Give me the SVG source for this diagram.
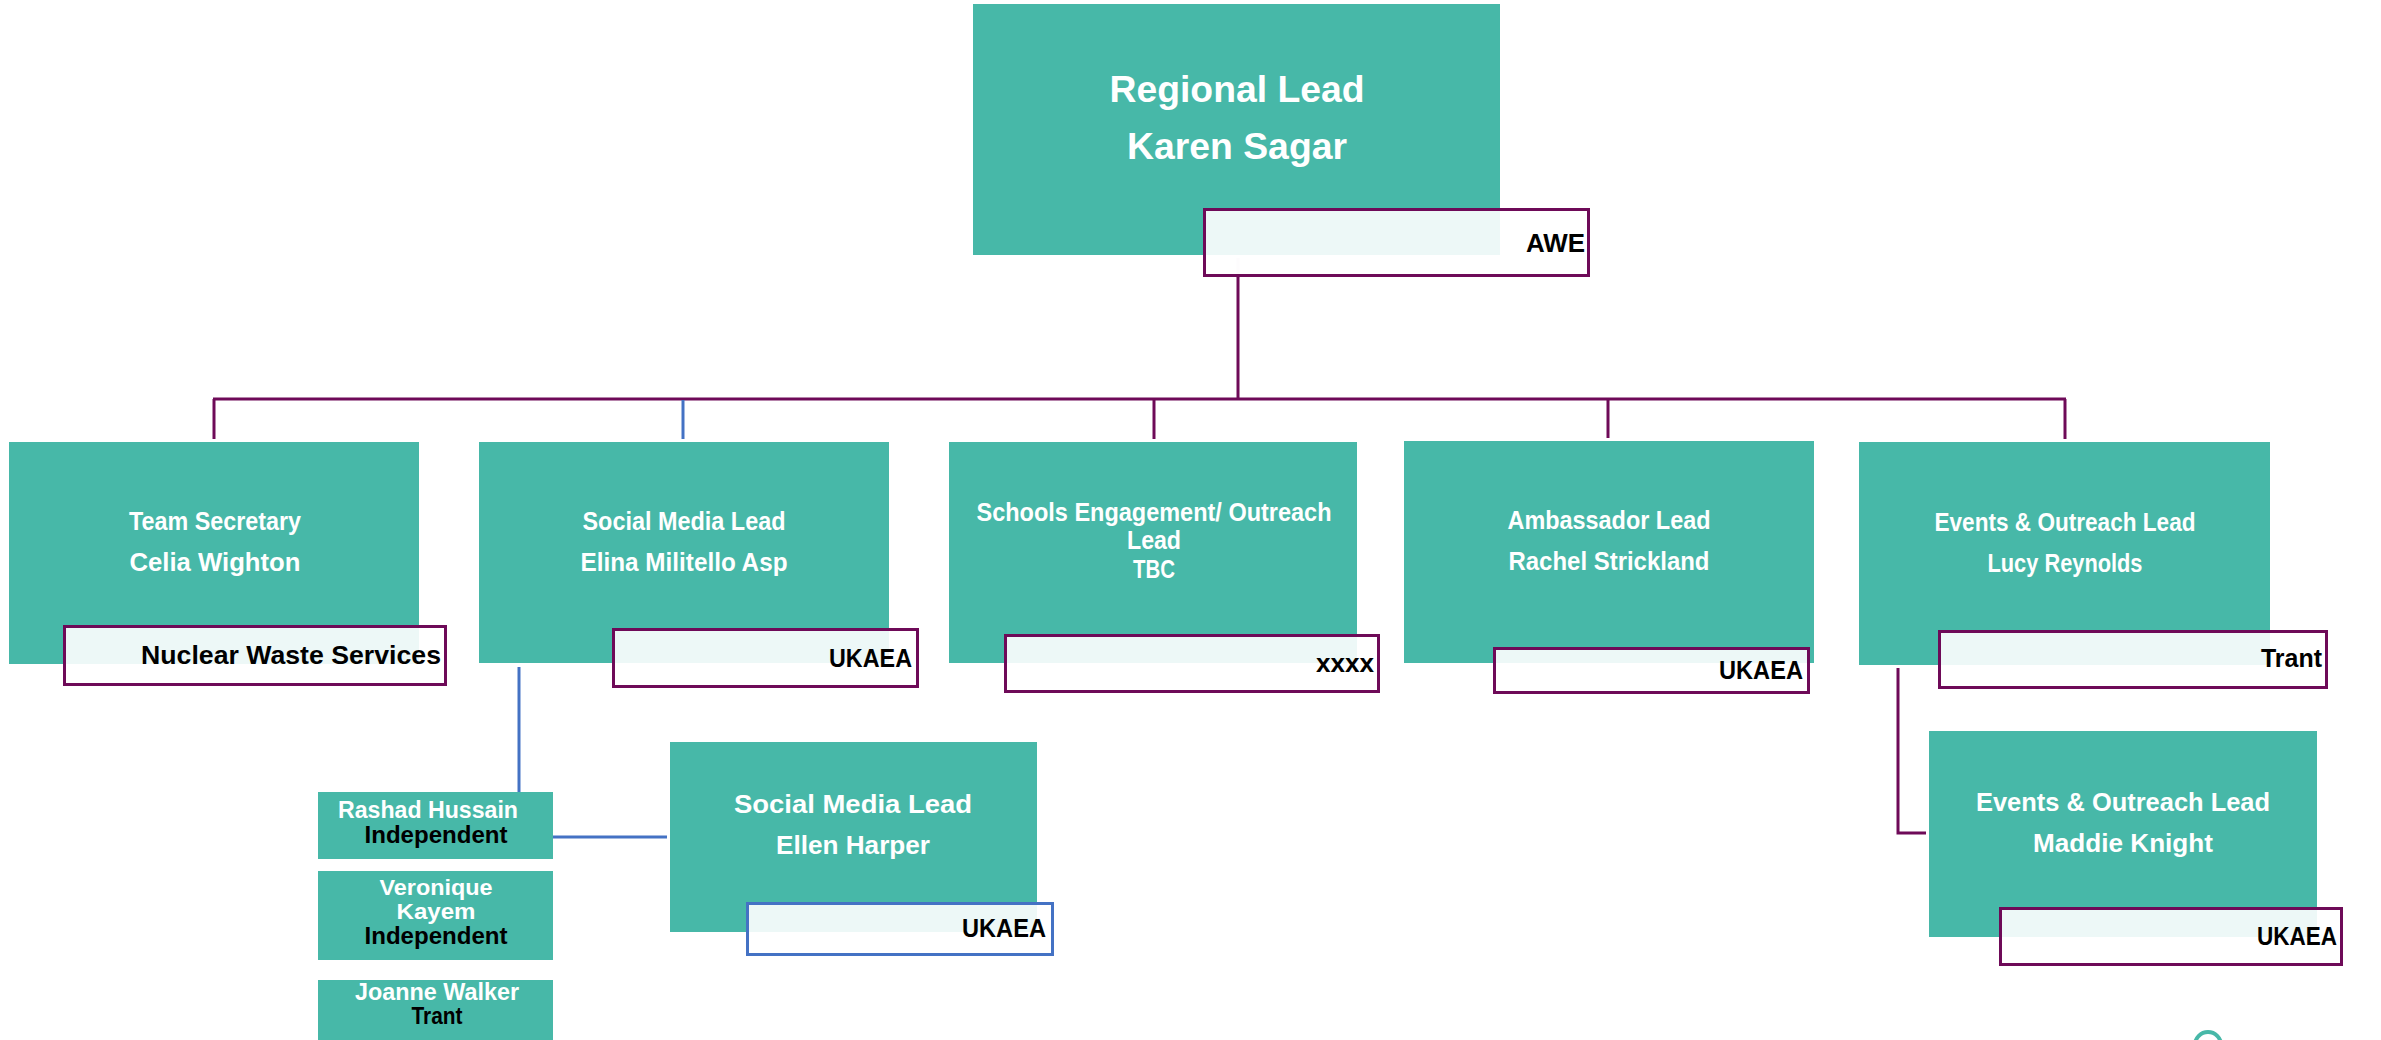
<svg xmlns="http://www.w3.org/2000/svg" width="2381" height="1040" viewBox="0 0 2381 1040">
<style>
.box{fill:#47B8A8}
.lbl{fill:#ffffff;fill-opacity:0.9;stroke:#6E0A58;stroke-width:3}
.lblb{fill:#ffffff;fill-opacity:0.9;stroke:#4472C4;stroke-width:3}
.t{font-family:"Liberation Sans",Arial,sans-serif;font-weight:bold;fill:#ffffff;text-anchor:middle}
.o{font-family:"Liberation Sans",Arial,sans-serif;font-weight:bold;fill:#000000;text-anchor:end}
.k{font-family:"Liberation Sans",Arial,sans-serif;font-weight:bold;fill:#000000;text-anchor:middle}
.p{stroke:#6E0A58;stroke-width:3;fill:none}
.b{stroke:#4472C4;stroke-width:3;fill:none}
</style>
<rect width="2381" height="1040" fill="#ffffff"/>
<g id="connectors">
<line class="p" x1="1238" y1="258" x2="1238" y2="278" stroke-opacity="0.15"/>
<line class="p" x1="1238" y1="277" x2="1238" y2="400"/>
<line class="p" x1="213" y1="399" x2="2066" y2="399"/>
<line class="p" x1="214" y1="399" x2="214" y2="439"/>
<line class="b" x1="683" y1="400" x2="683" y2="439"/>
<line class="p" x1="1154" y1="399" x2="1154" y2="439"/>
<line class="p" x1="1608" y1="399" x2="1608" y2="438"/>
<line class="p" x1="2065" y1="399" x2="2065" y2="439"/>
<line class="b" x1="519" y1="667" x2="519" y2="792"/>
<line class="b" x1="553" y1="837" x2="667" y2="837"/>
<polyline class="p" points="1898,668 1898,833 1926,833"/>
</g>
<g id="regional-lead">
<rect class="box" x="973" y="4" width="527" height="251"/>
<text class="t" x="1237" y="102" font-size="36" textLength="255" lengthAdjust="spacingAndGlyphs">Regional Lead</text>
<text class="t" x="1237" y="159" font-size="36" textLength="220" lengthAdjust="spacingAndGlyphs">Karen Sagar</text>
<rect class="lbl" x="1204.5" y="209.5" width="384" height="66"/>
<text class="o" x="1585" y="252" font-size="25" textLength="59" lengthAdjust="spacingAndGlyphs">AWE</text>
</g>
<g id="team-secretary">
<rect class="box" x="9" y="442" width="410" height="222"/>
<text class="t" x="215" y="530" font-size="25" textLength="172" lengthAdjust="spacingAndGlyphs">Team Secretary</text>
<text class="t" x="215" y="571" font-size="25" textLength="171" lengthAdjust="spacingAndGlyphs">Celia Wighton</text>
<rect class="lbl" x="64.5" y="626.5" width="381" height="58"/>
<text class="o" x="441" y="664" font-size="26" textLength="300" lengthAdjust="spacingAndGlyphs">Nuclear Waste Services</text>
</g>
<g id="social-media-lead-elina">
<rect class="box" x="479" y="442" width="410" height="221"/>
<text class="t" x="684" y="530" font-size="25" textLength="203" lengthAdjust="spacingAndGlyphs">Social Media Lead</text>
<text class="t" x="684" y="571" font-size="25" textLength="207" lengthAdjust="spacingAndGlyphs">Elina Militello Asp</text>
<rect class="lbl" x="613.5" y="629.5" width="304" height="57"/>
<text class="o" x="912" y="667" font-size="26" textLength="83" lengthAdjust="spacingAndGlyphs">UKAEA</text>
</g>
<g id="schools-engagement">
<rect class="box" x="949" y="442" width="408" height="221"/>
<text class="t" x="1154" y="521" font-size="25" textLength="355" lengthAdjust="spacingAndGlyphs">Schools Engagement/ Outreach</text>
<text class="t" x="1154" y="549" font-size="25" textLength="54" lengthAdjust="spacingAndGlyphs">Lead</text>
<text class="t" x="1154" y="578" font-size="25" textLength="42" lengthAdjust="spacingAndGlyphs">TBC</text>
<rect class="lbl" x="1005.5" y="635.5" width="373" height="56"/>
<text class="o" x="1374" y="672" font-size="25" textLength="58" lengthAdjust="spacingAndGlyphs">xxxx</text>
</g>
<g id="ambassador-lead">
<rect class="box" x="1404" y="441" width="410" height="222"/>
<text class="t" x="1609" y="529" font-size="25" textLength="203" lengthAdjust="spacingAndGlyphs">Ambassador Lead</text>
<text class="t" x="1609" y="570" font-size="25" textLength="201" lengthAdjust="spacingAndGlyphs">Rachel Strickland</text>
<rect class="lbl" x="1494.5" y="648.5" width="314" height="44"/>
<text class="o" x="1803" y="679" font-size="26" textLength="84" lengthAdjust="spacingAndGlyphs">UKAEA</text>
</g>
<g id="events-outreach-lucy">
<rect class="box" x="1859" y="442" width="411" height="223"/>
<text class="t" x="2065" y="531" font-size="25" textLength="261" lengthAdjust="spacingAndGlyphs">Events &amp; Outreach Lead</text>
<text class="t" x="2065" y="572" font-size="25" textLength="155" lengthAdjust="spacingAndGlyphs">Lucy Reynolds</text>
<rect class="lbl" x="1939.5" y="631.5" width="387" height="56"/>
<text class="o" x="2322" y="667" font-size="26" textLength="61" lengthAdjust="spacingAndGlyphs">Trant</text>
</g>
<g id="events-outreach-maddie">
<rect class="box" x="1929" y="731" width="388" height="206"/>
<text class="t" x="2123" y="811" font-size="26" textLength="294" lengthAdjust="spacingAndGlyphs">Events &amp; Outreach Lead</text>
<text class="t" x="2123" y="852" font-size="26" textLength="180" lengthAdjust="spacingAndGlyphs">Maddie Knight</text>
<rect class="lbl" x="2000.5" y="908.5" width="341" height="56"/>
<text class="o" x="2337" y="945" font-size="26" textLength="80" lengthAdjust="spacingAndGlyphs">UKAEA</text>
</g>
<g id="social-media-lead-ellen">
<rect class="box" x="670" y="742" width="367" height="190"/>
<text class="t" x="853" y="813" font-size="26" textLength="238" lengthAdjust="spacingAndGlyphs">Social Media Lead</text>
<text class="t" x="853" y="854" font-size="26" textLength="154" lengthAdjust="spacingAndGlyphs">Ellen Harper</text>
<rect class="lblb" x="747.5" y="903.5" width="305" height="51"/>
<text class="o" x="1046" y="937" font-size="26" textLength="84" lengthAdjust="spacingAndGlyphs">UKAEA</text>
</g>
<g id="rashad-hussain">
<rect class="box" x="318" y="792" width="235" height="67"/>
<text class="t" x="428" y="818" font-size="24" textLength="180" lengthAdjust="spacingAndGlyphs">Rashad Hussain</text>
<text class="k" x="436" y="843" font-size="24" textLength="143" lengthAdjust="spacingAndGlyphs">Independent</text>
</g>
<g id="veronique-kayem">
<rect class="box" x="318" y="871" width="235" height="89"/>
<text class="t" x="436" y="895" font-size="22" textLength="113" lengthAdjust="spacingAndGlyphs">Veronique</text>
<text class="t" x="436" y="919" font-size="22" textLength="79" lengthAdjust="spacingAndGlyphs">Kayem</text>
<text class="k" x="436" y="944" font-size="23" textLength="143" lengthAdjust="spacingAndGlyphs">Independent</text>
</g>
<g id="joanne-walker">
<rect class="box" x="318" y="980" width="235" height="62"/>
<text class="t" x="437" y="1000" font-size="24" textLength="164" lengthAdjust="spacingAndGlyphs">Joanne Walker</text>
<text class="k" x="437" y="1024" font-size="24" textLength="51" lengthAdjust="spacingAndGlyphs">Trant</text>
</g>
<circle cx="2208" cy="1045" r="13" fill="none" stroke="#47B8A8" stroke-width="4"/>
</svg>
